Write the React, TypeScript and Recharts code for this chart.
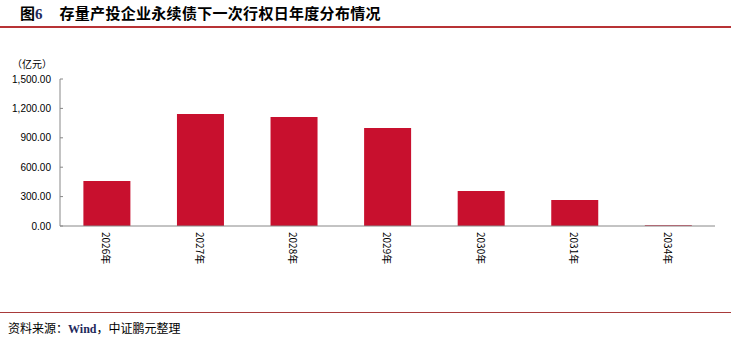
import React from "react";
import { BarChart, Bar, XAxis, YAxis } from "recharts";

const categories = ["2026年", "2027年", "2028年", "2029年", "2030年", "2031年", "2034年"];
const values = [459, 1143, 1112, 1000, 357, 265, 8];
const yTicks = [0, 300, 600, 900, 1200, 1500];

const data = categories.map((c, i) => ({ name: c, value: values[i] }));

const fmt = (v: number) =>
  v.toLocaleString("en-US", { minimumFractionDigits: 2, maximumFractionDigits: 2 });

const YTick = (props: any) => {
  const { x, y, payload } = props;
  return (
    <g>
      <line x1={60} x2={63} y1={y} y2={y} stroke="#888" strokeWidth={1} />
      <text
        x={x}
        y={y}
        textAnchor="end"
        dominantBaseline="central"
        fontSize={10}
        fontFamily="'Liberation Sans', sans-serif"
        fill="#000"
      >
        {fmt(payload.value)}
      </text>
    </g>
  );
};

const XTick = (props: any) => {
  const { x, payload } = props;
  const y = 232;
  return (
    <text
      x={x}
      y={y}
      transform={`rotate(90, ${x}, ${y})`}
      textAnchor="start"
      dominantBaseline="central"
      fontSize={10}
      fontFamily="'Noto Sans CJK SC', sans-serif"
      fill="#000"
    >
      {payload.value}
    </text>
  );
};

export default function App() {
  return (
    <div
      style={{
        position: "absolute",
        left: 0,
        top: 0,
        width: 731,
        height: 345,
        background: "#fff",
        fontFamily: "'Noto Sans CJK SC', sans-serif",
      }}
    >
      <div
        style={{
          position: "absolute",
          left: 20,
          top: 4,
          fontSize: 15,
          fontWeight: 700,
          lineHeight: "18px",
          whiteSpace: "nowrap",
          color: "#000",
        }}
      >
        图<span style={{ fontFamily: "'Liberation Serif', serif", color: "#1F2A5C" }}>6</span>
        <span style={{ marginLeft: 17, letterSpacing: 0.3 }}>存量产投企业永续债下一次行权日年度分布情况</span>
      </div>
      <div style={{ position: "absolute", left: 0, top: 26, width: 731, height: 2, background: "#B83235" }} />
      <div
        style={{
          position: "absolute",
          left: 12,
          top: 56,
          fontSize: 10,
          color: "#000",
          whiteSpace: "nowrap",
        }}
      >
        （亿元）
      </div>
      <div style={{ position: "absolute", left: 0, top: 312, width: 731, height: 1, background: "#A83A3A" }} />
      <div
        style={{
          position: "absolute",
          left: 8,
          top: 319,
          fontSize: 12,
          color: "#000",
          whiteSpace: "nowrap",
          lineHeight: "18px",
        }}
      >
        资料来源：
        <span style={{ fontFamily: "'Liberation Serif', serif", color: "#1F2A5C", fontWeight: 700 }}>Wind</span>
        ，中证鹏元整理
      </div>
      <div style={{ position: "absolute", left: 0, top: 0 }}>
        <BarChart
          width={731}
          height={345}
          data={data}
          margin={{ top: 79, right: 16, left: 0, bottom: 89 }}
          barCategoryGap="25%"
        >
          <XAxis
            dataKey="name"
            stroke="#888"
            tickLine={false}
            tick={<XTick />}
            interval={0}
            height={30}
          />
          <YAxis
            width={60}
            domain={[0, 1500]}
            ticks={yTicks}
            stroke="#888"
            tickLine={false}
            tickSize={0}
            tickMargin={9}
            tick={<YTick />}
            interval={0}
          />
          <Bar dataKey="value" fill="#C8102E" isAnimationActive={false} />
        </BarChart>
      </div>
    </div>
  );
}
